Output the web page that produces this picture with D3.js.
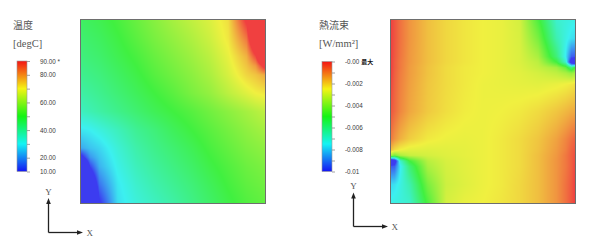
<!DOCTYPE html>
<html><head><meta charset="utf-8">
<script src="https://cdn.jsdelivr.net/npm/d3@7"></script>
<style>body{margin:0;background:#fff} svg{display:block}</style>
</head><body>
<script>
// ---------- Temperature field (degC), rows top->bottom, columns left->right ----------
const tempX = [0,.05,.1,.2,.3,.4,.5,.6,.7,.8,.9,.95,1];
const tempY = [0,.05,.1,.2,.25,.3,.4,.5,.6,.7,.75,.8,.9,.95,1];
const tempValues = [
 [46,47,48,51,54.5,58,61.5,64.5,67.5,72,92,120,140],
 [45.3,46.3,47.3,50.3,53.8,57.3,60.5,63.5,66.8,71.5,88,115,138],
 [44.5,45.5,46.5,49.5,53,56.5,59.5,62.5,66,71,84,108,135],
 [43,44,45,48,51,54.5,57.5,60.5,64,69,77,89,120],
 [42,43,44,47,50,53.5,56.5,59.5,63,68,75,80,95],
 [41,42,43,46,49,52.5,55.5,58.5,62,67,73,75,78],
 [38.5,39.7,41,44,47,50,53,56.5,59.5,64,68,70,71],
 [35.5,37,38.5,41.5,44.5,47.5,50,52.5,55.5,58.5,61.5,63,64.5],
 [29,30,32,36,40.5,43.5,47,50,53,56,59,60.3,61.5],
 [22,25,27,33,38,41.5,44.5,47.5,51,54,57,58,59],
 [5,20,25,32,37,40.5,43.5,46.5,50,53,56,57,58],
 [-20,11,23,31,36,39.5,42.5,45.5,49,52,55,56,57],
 [-35,-8,16,29,34,37.5,40.5,43.5,47,50.5,53.5,54.5,55.5],
 [-38,-15,12,28.5,33.2,36.5,39.5,42.7,46.2,49.7,52.7,53.7,54.7],
 [-40,-20,8,28,32.5,35.5,38.5,42,45.5,49,52,53,54]
];
const tempDomain = [10, 90];
const tempTicks = [10,20,30,40,50,60,70,80,90];
const tempLabelValues = [90,80,60,40,20,10];
const tempLabels = ["90.00 *","80.00","60.00","40.00","20.00","10.00"];

// ---------- Heat flux field (W/mm^2) ----------
const fluxX = [0,.02,.05,.1,.2,.3,.4,.5,.6,.7,.8,.9,.95,.98,1];
const fluxY = [0,.1,.2,.23,.26,.29,.35,.5,.65,.71,.74,.77,.8,.9,1];
const fluxValues = [
 [0,-0.3e-3,-0.7e-3,-1.2e-3,-1.8e-3,-2.15e-3,-2.35e-3,-2.5e-3,-2.6e-3,-2.9e-3,-4.8e-3,-7.0e-3,-7.2e-3,-7.3e-3,-7.4e-3],
 [0,-0.3e-3,-0.7e-3,-1.2e-3,-1.8e-3,-2.15e-3,-2.35e-3,-2.5e-3,-2.6e-3,-2.85e-3,-4.2e-3,-6.6e-3,-7.3e-3,-7.7e-3,-7.8e-3],
 [0,-0.35e-3,-0.75e-3,-1.25e-3,-1.8e-3,-2.15e-3,-2.35e-3,-2.5e-3,-2.6e-3,-2.8e-3,-3.5e-3,-5.8e-3,-7.6e-3,-9.5e-3,-9.6e-3],
 [0,-0.4e-3,-0.8e-3,-1.25e-3,-1.8e-3,-2.15e-3,-2.35e-3,-2.5e-3,-2.6e-3,-2.8e-3,-3.25e-3,-5.0e-3,-7.0e-3,-11e-3,-12e-3],
 [0,-0.4e-3,-0.8e-3,-1.3e-3,-1.85e-3,-2.2e-3,-2.4e-3,-2.5e-3,-2.6e-3,-2.75e-3,-3.1e-3,-3.6e-3,-4.5e-3,-6.0e-3,-5.0e-3],
 [0,-0.45e-3,-0.85e-3,-1.3e-3,-1.85e-3,-2.2e-3,-2.4e-3,-2.5e-3,-2.6e-3,-2.7e-3,-2.9e-3,-3.2e-3,-3.5e-3,-3.8e-3,-3.6e-3],
 [-0.1e-3,-0.5e-3,-0.9e-3,-1.35e-3,-1.9e-3,-2.2e-3,-2.4e-3,-2.55e-3,-2.6e-3,-2.65e-3,-2.7e-3,-2.6e-3,-2.5e-3,-2.4e-3,-2.3e-3],
 [-0.3e-3,-0.6e-3,-1.0e-3,-1.45e-3,-1.95e-3,-2.25e-3,-2.45e-3,-2.55e-3,-2.5e-3,-2.4e-3,-2.2e-3,-1.9e-3,-1.7e-3,-1.55e-3,-1.5e-3],
 [-0.8e-3,-1.2e-3,-1.6e-3,-2.0e-3,-2.4e-3,-2.55e-3,-2.6e-3,-2.55e-3,-2.4e-3,-2.2e-3,-1.9e-3,-1.4e-3,-1.0e-3,-0.7e-3,-0.5e-3],
 [-1.8e-3,-2.2e-3,-2.5e-3,-2.7e-3,-2.75e-3,-2.7e-3,-2.65e-3,-2.55e-3,-2.4e-3,-2.2e-3,-1.85e-3,-1.3e-3,-0.9e-3,-0.5e-3,-0.3e-3],
 [-3.6e-3,-4.2e-3,-3.5e-3,-3.1e-3,-2.9e-3,-2.75e-3,-2.65e-3,-2.55e-3,-2.4e-3,-2.2e-3,-1.8e-3,-1.25e-3,-0.8e-3,-0.45e-3,-0.2e-3],
 [-12e-3,-11e-3,-7.0e-3,-5.0e-3,-3.3e-3,-2.85e-3,-2.7e-3,-2.55e-3,-2.4e-3,-2.2e-3,-1.8e-3,-1.2e-3,-0.8e-3,-0.45e-3,-0.15e-3],
 [-9.6e-3,-9.5e-3,-7.6e-3,-5.8e-3,-3.5e-3,-2.9e-3,-2.7e-3,-2.55e-3,-2.4e-3,-2.2e-3,-1.8e-3,-1.2e-3,-0.8e-3,-0.45e-3,-0.1e-3],
 [-7.8e-3,-7.7e-3,-7.3e-3,-6.6e-3,-4.2e-3,-3.0e-3,-2.75e-3,-2.55e-3,-2.4e-3,-2.15e-3,-1.8e-3,-1.2e-3,-0.7e-3,-0.35e-3,0],
 [-7.4e-3,-7.3e-3,-7.2e-3,-7.0e-3,-4.8e-3,-2.9e-3,-2.6e-3,-2.5e-3,-2.35e-3,-2.15e-3,-1.8e-3,-1.2e-3,-0.7e-3,-0.3e-3,0]
];
const fluxDomain = [-0.01, 0];
const fluxTicks = [-0.01,-0.009,-0.008,-0.007,-0.006,-0.005,-0.004,-0.003,-0.002,-0.001,0];
const fluxLabelValues = [0,-0.002,-0.004,-0.006,-0.008,-0.01];
const fluxLabels = ["-0.00","-0.002","-0.004","-0.006","-0.008","-0.01"];

const fieldColors = ["#3c3cf0","#3cf0f0","#40f040","#f0f040","#f04040"];
const barColors = ["#1414f4","#14f4f4","#14f414","#f4f414","#f41414"];

const W = 590, H = 247;
const svg = d3.select("body").append("svg").attr("width", W).attr("height", H);
const defs = svg.append("defs");

function makeColor(domain, colors) {
  const [a, b] = domain;
  return d3.scaleLinear()
    .domain(d3.range(colors.length).map(i => a + (b - a) * i / (colors.length - 1)))
    .range(colors).clamp(true);
}

function drawField(xs, ys, vals, box, color) {
  const w = box.w, h = box.h;
  const canvas = document.createElement("canvas");
  canvas.width = w; canvas.height = h;
  const ctx = canvas.getContext("2d");
  const img = ctx.createImageData(w, h);
  const fx = d3.scaleLinear().domain([0, w]).range([0, 1]);
  const fy = d3.scaleLinear().domain([0, h]).range([0, 1]);
  for (let py = 0; py < h; py++) {
    const v = fy(py + 0.5);
    const j = Math.min(Math.max(d3.bisectRight(ys, v) - 1, 0), ys.length - 2);
    const ty = (v - ys[j]) / (ys[j + 1] - ys[j]);
    for (let px = 0; px < w; px++) {
      const u = fx(px + 0.5);
      const i = Math.min(Math.max(d3.bisectRight(xs, u) - 1, 0), xs.length - 2);
      const tx = (u - xs[i]) / (xs[i + 1] - xs[i]);
      const val = (1 - ty) * ((1 - tx) * vals[j][i] + tx * vals[j][i + 1]) +
                  ty * ((1 - tx) * vals[j + 1][i] + tx * vals[j + 1][i + 1]);
      const c = d3.rgb(color(val));
      const k = (py * w + px) * 4;
      img.data[k] = c.r; img.data[k + 1] = c.g; img.data[k + 2] = c.b; img.data[k + 3] = 255;
    }
  }
  ctx.putImageData(img, 0, 0);
  svg.append("image").attr("x", box.x).attr("y", box.y).attr("width", w).attr("height", h)
    .attr("preserveAspectRatio", "none").attr("href", canvas.toDataURL());
  svg.append("rect").attr("x", box.x - 0.5).attr("y", box.y - 0.5)
    .attr("width", w + 1).attr("height", h + 1)
    .attr("fill", "none").attr("stroke", "#6e6e6e").attr("stroke-width", 1);
}

function drawBar(id, domain, ticks, labelValues, labels, bar) {
  const y = d3.scaleLinear().domain(domain).range([bar.y1, bar.y0]);
  const bc = makeColor(domain, barColors);
  const grad = defs.append("linearGradient").attr("id", id)
    .attr("x1", 0).attr("y1", 1).attr("x2", 0).attr("y2", 0);
  d3.range(0, 1.0001, 0.05).forEach(t => {
    grad.append("stop").attr("offset", t)
      .attr("stop-color", bc(domain[0] + (domain[1] - domain[0]) * t));
  });
  svg.append("rect").attr("x", bar.x).attr("y", bar.y0).attr("width", bar.w)
    .attr("height", bar.y1 - bar.y0).attr("fill", `url(#${id})`)
    .attr("stroke", "#9a9a9a").attr("stroke-width", 0.6);
  const fmt = v => {
    const k = labelValues.findIndex(l => Math.abs(l - v) < 1e-9);
    return k >= 0 ? labels[k] : "";
  };
  const ax = svg.append("g").attr("transform", `translate(${bar.x + bar.w},0)`)
    .call(d3.axisRight(y).tickValues(ticks).tickSize(3).tickPadding(10).tickFormat(fmt));
  ax.select(".domain").remove();
  ax.selectAll(".tick line").attr("stroke", "#8a8a8a").attr("stroke-width", 0.8);
  ax.selectAll(".tick text").attr("fill", "#3a3a3a")
    .style("font-family", "'Liberation Sans', Arial, sans-serif").style("font-size", "6.3px");
  return ax;
}

function title(x, l1, l2) {
  svg.append("text").attr("x", x).attr("y", 29).text(l1)
    .attr("fill", "#555").style("font-family", "'Liberation Serif','Noto Sans CJK JP',serif")
    .style("font-size", "10px");
  svg.append("text").attr("x", x).attr("y", 46.5).text(l2)
    .attr("fill", "#555").style("font-family", "'Liberation Serif','Noto Sans CJK JP',serif")
    .style("font-size", "10.5px");
}

function triad(ox, oy, tipY, tipX, labY, labX) {
  const g = svg.append("g").attr("stroke", "#222").attr("fill", "#222");
  g.append("line").attr("x1", ox).attr("y1", oy).attr("x2", ox).attr("y2", tipY + 4).attr("stroke-width", 1.3);
  g.append("line").attr("x1", ox).attr("y1", oy).attr("x2", tipX - 4).attr("y2", oy).attr("stroke-width", 1.3);
  g.append("path").attr("stroke", "none").attr("d", `M${ox},${tipY} L${ox - 2.3},${tipY + 6} L${ox + 2.3},${tipY + 6} Z`);
  g.append("path").attr("stroke", "none").attr("d", `M${tipX},${oy} L${tipX - 6},${oy - 2.3} L${tipX - 6},${oy + 2.3} Z`);
  const st = s => s.attr("fill", "#555").style("font-family", "'Liberation Serif',serif").style("font-size", "9px");
  st(svg.append("text").attr("x", ox).attr("y", labY).attr("text-anchor", "middle").text("Y"));
  st(svg.append("text").attr("x", labX).attr("y", oy + 3.2).text("X"));
}

// Left: temperature
title(13, "温度", "[degC]");
drawBar("gT", tempDomain, tempTicks, tempLabelValues, tempLabels, {x: 17, w: 10, y0: 61, y1: 171.5});
drawField(tempX, tempY, tempValues, {x: 81, y: 20, w: 184, h: 183}, makeColor(tempDomain, fieldColors));
triad(48.5, 232.5, 198, 83, 195, 86.5);

// Right: heat flux
title(319, "熱流束", "[W/mm²]");
const axF = drawBar("gF", fluxDomain, fluxTicks, fluxLabelValues, fluxLabels, {x: 322, w: 10, y0: 61.5, y1: 171.5});
axF.selectAll(".tick").filter(d => d === 0).select("text")
  .append("tspan").attr("dx", 2).text("最大")
  .attr("fill", "#111").style("font-family", "'Noto Sans CJK JP',sans-serif")
  .style("font-weight", "bold").style("font-size", "6px");
drawField(fluxX, fluxY, fluxValues, {x: 391, y: 20, w: 184, h: 183}, makeColor(fluxDomain, fieldColors));
triad(353.5, 226.5, 192.5, 388, 189, 391.5);
</script>
</body></html>
